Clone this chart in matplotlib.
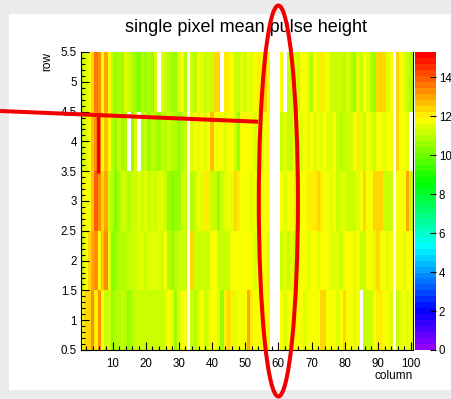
import colorsys

import matplotlib
matplotlib.use("Agg")
import matplotlib.pyplot as plt
import numpy as np
from matplotlib.colors import ListedColormap, Normalize
from matplotlib.patches import Ellipse, Rectangle
from matplotlib.ticker import FuncFormatter, MultipleLocator

plt.rcParams["font.family"] = ["Liberation Sans", "DejaVu Sans"]

W, H = 452, 399
RED = "#f00000"

# pixel map: 100 columns x 5 rows, 0 = empty bin (not drawn)
col_edges = np.arange(0.5, 101.0, 1.0)
row_edges = np.arange(0.5, 6.0, 1.0)

row1 = [11.8, 12.3, 12.4, 13.2, 12.2, 13.2, 11.8, 11.2, 11.1, 10.6,
        11.0, 10.8, 11.1, 10.9, 10.7, 11.0, 11.2, 11.1, 11.3, 11.2,
        11.1, 11.2, 11.2, 11.3, 11.1, 11.5, 11.8, 11.4, 10.6, 11.6,
        11.8, 11.8, 0, 11.2, 11.0, 11.6, 11.8, 11.3, 11.5, 11.8,
        11.8, 11.6, 10.6, 12.2, 12.3, 12.0, 11.6, 11.8, 11.8, 11.8,
        13.0, 12.2, 11.8, 11.8, 11.8, 11.9, 11.8, 0, 0, 0,
        11.8, 11.6, 11.8, 11.8, 11.9, 11.8, 11.8, 11.6, 11.8, 11.9,
        11.8, 11.8, 12.4, 12.3, 11.8, 11.8, 11.8, 11.6, 11.8, 12.3,
        11.8, 11.9, 11.5, 11.8, 0, 11.2, 11.2, 11.3, 11.8, 12.2,
        12.0, 11.8, 11.8, 11.6, 0, 11.3, 11.5, 11.8, 11.4, 11.8]
row2 = [11.2, 11.8, 12.3, 13.1, 13.3, 11.8, 12.6, 13.2, 11.6, 10.3,
        10.5, 10.8, 11.0, 10.9, 11.2, 11.3, 11.2, 11.5, 11.4, 11.3,
        11.5, 11.4, 11.6, 11.5, 11.3, 11.8, 11.0, 10.7, 10.8, 11.2,
        11.3, 11.2, 0, 12.4, 11.3, 11.2, 11.2, 11.1, 11.3, 11.8,
        11.8, 11.2, 11.1, 11.2, 11.3, 11.8, 11.8, 11.8, 11.9, 11.8,
        11.8, 11.8, 11.6, 11.8, 11.8, 11.8, 11.6, 0, 0, 0,
        11.3, 11.4, 11.2, 11.5, 11.3, 11.6, 11.8, 11.8, 11.5, 11.8,
        11.8, 11.6, 11.8, 11.9, 11.8, 11.5, 11.4, 11.6, 11.3, 11.8,
        11.8, 11.8, 11.6, 11.8, 11.2, 11.2, 11.8, 11.8, 11.6, 12.3,
        11.8, 11.8, 11.6, 11.8, 0, 11.8, 11.8, 11.6, 11.8, 11.8]
row3 = [11.6, 11.8, 11.9, 12.6, 13.8, 13.2, 12.3, 13.0, 11.2, 11.0,
        10.4, 10.9, 11.1, 11.2, 11.0, 11.3, 11.2, 11.4, 11.2, 11.5,
        11.3, 11.5, 11.2, 11.6, 11.4, 11.1, 10.6, 10.4, 10.7, 10.7,
        11.2, 11.1, 0, 11.0, 11.2, 11.8, 11.6, 12.2, 12.0, 11.2,
        11.1, 10.6, 11.3, 11.5, 11.8, 11.6, 12.3, 12.2, 11.8, 11.8,
        11.8, 11.6, 11.8, 11.8, 11.9, 11.8, 11.8, 0, 0, 0,
        11.8, 11.5, 11.8, 11.8, 11.6, 11.9, 11.8, 11.8, 12.0, 12.2,
        12.1, 12.3, 12.0, 11.8, 11.8, 11.5, 11.8, 11.3, 11.4, 11.6,
        11.2, 11.3, 11.2, 11.4, 11.8, 12.4, 11.8, 11.8, 12.3, 12.5,
        12.3, 11.3, 11.2, 11.3, 0, 11.8, 11.8, 11.8, 13.1, 11.2]
row4 = [11.1, 11.6, 11.8, 12.6, 13.4, 13.3, 11.8, 12.6, 11.8, 10.8,
        10.7, 11.2, 10.6, 11.0, 0, 10.6, 11.5, 0, 10.8, 11.1,
        10.7, 11.2, 11.0, 10.6, 11.3, 11.0, 11.1, 10.8, 10.9, 10.7,
        11.0, 11.2, 0, 11.5, 11.8, 11.4, 11.8, 11.5, 11.8, 12.8,
        11.9, 11.8, 11.8, 11.6, 11.8, 11.9, 11.3, 10.7, 11.8, 11.8,
        11.8, 11.9, 11.6, 11.8, 11.2, 11.8, 11.8, 0, 0, 0,
        11.2, 11.4, 11.2, 11.3, 11.5, 11.8, 11.5, 11.8, 11.4, 11.8,
        11.6, 11.8, 11.5, 11.8, 11.4, 11.6, 11.8, 11.1, 10.9, 11.2,
        11.3, 11.1, 11.8, 12.2, 11.6, 11.3, 11.8, 11.5, 11.3, 11.8,
        11.8, 11.6, 11.8, 11.8, 0, 12.3, 11.8, 11.8, 11.6, 0]
row5 = [11.3, 11.5, 11.8, 12.5, 13.5, 13.4, 11.9, 13.1, 11.8, 11.0,
        10.6, 11.0, 10.7, 11.5, 11.1, 10.8, 10.6, 10.4, 10.8, 10.6,
        11.0, 10.6, 11.4, 0, 11.5, 11.2, 10.8, 10.5, 10.7, 11.6,
        11.8, 11.0, 0, 11.1, 10.9, 11.8, 11.6, 11.2, 11.5, 11.2,
        12.3, 12.5, 0, 12.0, 12.2, 11.9, 11.1, 11.3, 11.6, 11.2,
        11.8, 11.6, 11.8, 12.1, 11.8, 12.3, 11.9, 0, 0, 0,
        11.8, 0, 11.3, 11.2, 11.6, 11.2, 11.8, 11.9, 11.5, 11.0,
        11.8, 11.4, 12.0, 11.6, 11.8, 11.3, 11.2, 11.1, 11.3, 11.0,
        11.5, 10.8, 10.6, 11.6, 11.2, 11.8, 11.4, 11.0, 10.7, 12.3,
        12.5, 12.3, 11.6, 11.9, 0, 12.4, 11.8, 11.5, 11.1, 11.0]

Z_MAX = 15.3
cbar_ticks = [0, 2, 4, 6, 8, 10, 12, 14]

z = np.ma.masked_equal(np.array([row1, row2, row3, row4, row5]), 0)

# ROOT "pretty" palette: 49 HLS hues from violet to orange, last one red
hues = [280 - (i + 1) * 280 / 50 for i in range(49)] + [0]
cmap = ListedColormap([colorsys.hls_to_rgb(h / 360, 0.5, 1.0) for h in hues])
cmap.set_bad("white")

fig = plt.figure(figsize=(W / 100, H / 100), dpi=100, facecolor="#ebebeb")
fig.patches.append(Rectangle((9 / W, 1 - 390 / H), 1 - 9 / W, (390 - 14) / H,
                             transform=fig.transFigure, facecolor="white",
                             edgecolor="none", zorder=-2))

ax = fig.add_axes([81 / W, 1 - 350 / H, (412.7 - 81) / W, (350 - 52) / H])
mesh = ax.pcolormesh(col_edges, row_edges, z, cmap=cmap,
                     norm=Normalize(0, Z_MAX), zorder=1)
ax.set_xlim(0.5, 100.5)
ax.set_ylim(0.5, 5.5)

ax.xaxis.set_major_locator(MultipleLocator(10))
ax.xaxis.set_minor_locator(MultipleLocator(2))
ax.yaxis.set_major_locator(MultipleLocator(0.5))
ax.yaxis.set_minor_locator(MultipleLocator(0.1))
ax.yaxis.set_major_formatter(FuncFormatter(lambda v, p: f"{v:g}"))
ax.tick_params(which="both", direction="in", width=0.8, labelsize=8.3)
ax.tick_params(axis="y", which="major", length=6, pad=3)
ax.tick_params(axis="y", which="minor", length=3)
ax.tick_params(axis="x", which="major", length=5.5, pad=6)
ax.tick_params(axis="x", which="minor", length=2.8)

for side in ("left", "bottom", "right"):
    ax.spines[side].set_linewidth(0.8)
ax.spines["top"].set_color("#888888")
ax.spines["top"].set_linewidth(0.8)
ax.spines["top"].set_zorder(0.5)

ax.set_xlabel("column", loc="right", fontsize=8.5)
ax.xaxis.set_label_coords(1.0, -0.067)
ax.set_ylabel("row", loc="top", fontsize=8.5)
ax.yaxis.set_label_coords(-0.083, 1.0)

fig.text(246 / W, 1 - 32.3 / H, "single pixel mean pulse height",
         ha="center", va="baseline", fontsize=13, zorder=-1)

# colour scale
cax = fig.add_axes([415 / W, 1 - 350 / H, 21 / W, (350 - 52) / H])
cb = fig.colorbar(mesh, cax=cax)
cb.outline.set_visible(False)
cb.set_ticks(cbar_ticks)
cax.tick_params(direction="in", length=4.5, width=0.8, pad=2, labelsize=8.3)

# hand-drawn highlight: ring around column 60, pointer to column 5/6
ax.add_patch(Ellipse((60, 3.0), 11.8, 6.56, fill=False, edgecolor=RED,
                     linewidth=2.9, clip_on=False, zorder=6))
ax.plot([-23.9, 53.9], [4.51, 4.33], color=RED, linewidth=2.9,
        solid_capstyle="butt", clip_on=False, zorder=6)
ax.plot([5.6, 5.6], [4.48, 3.47], color=RED, linewidth=2.4,
        solid_capstyle="butt", clip_on=False, zorder=6)

fig.savefig("out.png", dpi=100, facecolor=fig.get_facecolor())
